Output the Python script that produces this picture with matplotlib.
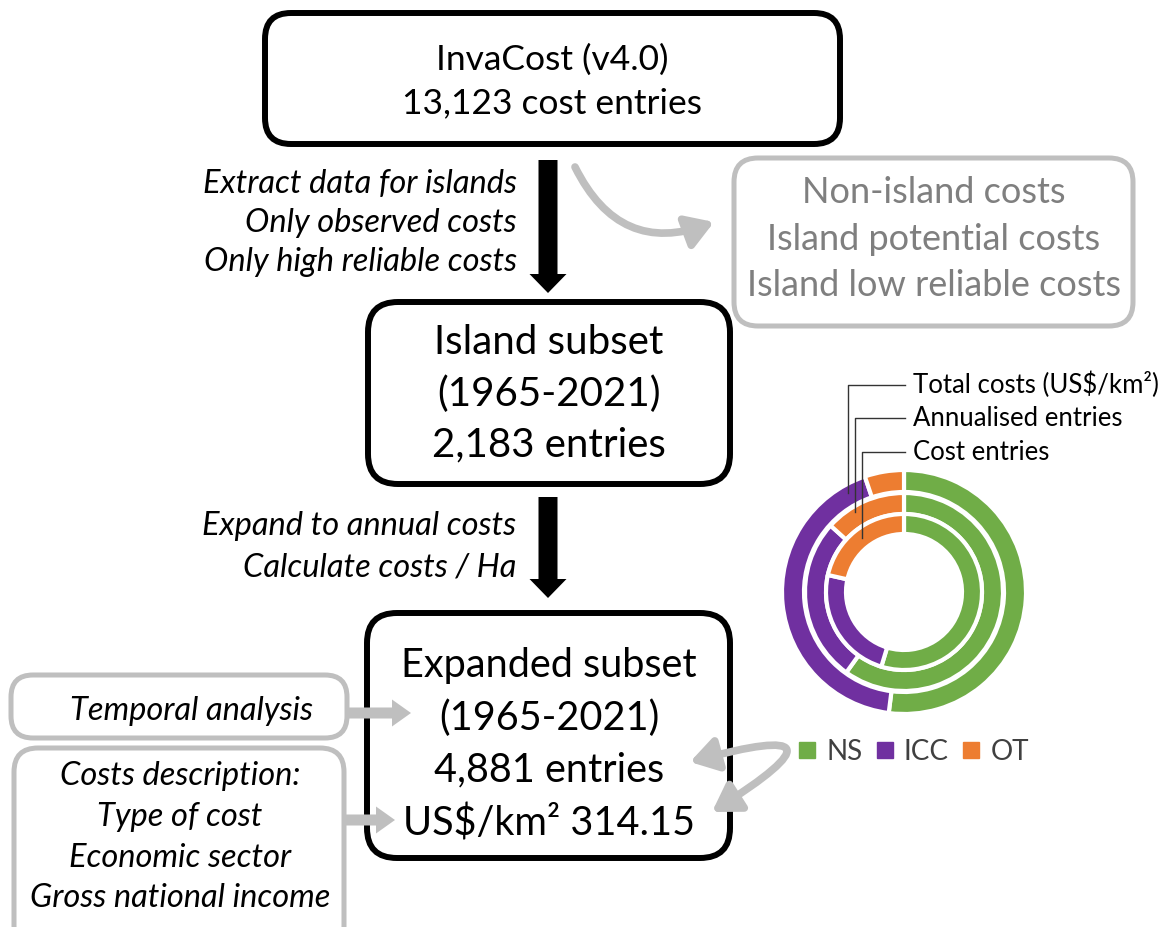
import matplotlib.pyplot as plt
from matplotlib.patches import FancyBboxPatch, FancyArrow, FancyArrowPatch
from matplotlib.lines import Line2D

plt.rcParams['font.family'] = ['Lato', 'DejaVu Sans']

# ring shares (%), order NS, ICC, OT
groups = ['NS', 'ICC', 'OT']
total_costs = [52.0, 42.8, 5.2]
annualised_entries = [59.9, 26.8, 13.3]
cost_entries = [54.7, 23.8, 21.5]
ring_labels = ['Total costs (US$/km²)', 'Annualised entries', 'Cost entries']
colors = ['#70ad47', '#7030a0', '#ed7d31']

top_lines = ['InvaCost (v4.0)', '13,123 cost entries']
filter_lines = ['Extract data for islands', 'Only observed costs', 'Only high reliable costs']
removed_lines = ['Non-island costs', 'Island potential costs', 'Island low reliable costs']
island_lines = ['Island subset', '(1965-2021)', '2,183 entries']
expand_lines = ['Expand to annual costs', 'Calculate costs / Ha']
expanded_lines = ['Expanded subset', '(1965-2021)', '4,881 entries', 'US$/km² 314.15']
desc_lines = ['Costs description:', 'Type of cost', 'Economic sector', 'Gross national income']

GRAY = '#bfbfbf'

fig = plt.figure(figsize=(11.74, 9.27), dpi=100)
ax = fig.add_axes([0, 0, 1, 1])
ax.set_xlim(0, 1174)
ax.set_ylim(927, 0)
ax.axis('off')


def box(x0, y0, x1, y1, ec, lw, r):
    ax.add_patch(FancyBboxPatch((x0, y0), x1 - x0, y1 - y0,
                                boxstyle=f'round,pad=0,rounding_size={r}',
                                fc='white', ec=ec, lw=lw, zorder=1))


def lines(txt, x, ys, size, **kw):
    for t, y in zip(txt, ys):
        ax.text(x, y, t, fontsize=size, va='center', **kw)


# main boxes
box(265, 13, 840, 144, 'black', 4.3, 26)
lines(top_lines, 552, [60, 103], 25.5, ha='center')

box(368, 302, 730, 484, 'black', 4.3, 30)
lines(island_lines, 549, [343, 394, 445], 29, ha='center')

box(367, 613, 730, 858, 'black', 4.3, 30)
lines(expanded_lines, 549, [665, 718, 770, 823], 28.5, ha='center')

# grey boxes
box(734, 158, 1133, 326, GRAY, 3.6, 24)
lines(removed_lines, 934, [192, 239, 285], 26, ha='center', color='#7f7f7f')

box(11, 675, 347, 738, GRAY, 3.6, 22)
lines(['Temporal analysis'], 191, [711], 23.5, ha='center', style='italic')

box(14, 748, 344, 950, GRAY, 3.6, 24)
lines(desc_lines, 180, [776, 817, 858, 898], 23.5, ha='center', style='italic')

# step descriptions
lines(filter_lines, 517, [184, 223, 262], 23.5, ha='right', style='italic')
lines(expand_lines, 516, [526, 567], 23.5, ha='right', style='italic')

# black arrows
ax.add_patch(FancyArrow(548, 160, 0, 133, width=19, head_width=37, head_length=19,
                        length_includes_head=True, color='black', lw=0))
ax.add_patch(FancyArrow(548, 497, 0, 101, width=19, head_width=37, head_length=19,
                        length_includes_head=True, color='black', lw=0))

# grey arrows
ax.add_patch(FancyArrow(347, 713, 64, 0, width=11, head_width=27, head_length=19,
                        length_includes_head=True, color=GRAY, lw=0, zorder=3))
ax.add_patch(FancyArrow(344, 820, 51, 0, width=11, head_width=27, head_length=19,
                        length_includes_head=True, color=GRAY, lw=0, zorder=3))

ax.add_patch(FancyArrowPatch((575, 167), (714, 222), connectionstyle='arc3,rad=0.45',
                             arrowstyle='-|>,head_length=0.8,head_width=0.5',
                             mutation_scale=20, lw=5.5, color=GRAY,
                             shrinkA=0, shrinkB=0, zorder=3))
ax.add_patch(FancyArrowPatch((690, 762), (712, 812), connectionstyle='arc3,rad=-3.3',
                             arrowstyle='<|-|>,head_length=0.8,head_width=0.5',
                             mutation_scale=20, lw=5.5, color=GRAY,
                             shrinkA=0, shrinkB=0, zorder=3))

# donut
dax = fig.add_axes([(904 - 140) / 1174, (927 - 592 - 140) / 927, 280 / 1174, 280 / 927])
for vals, r, w in zip([total_costs, annualised_entries, cost_entries], [122, 99, 78], [22, 21, 20]):
    dax.pie(vals, radius=r, startangle=90, counterclock=False, colors=colors,
            wedgeprops=dict(width=w, edgecolor='white', linewidth=3))
dax.set_xlim(-140, 140)
dax.set_ylim(-140, 140)
dax.set_aspect('equal')
dax.axis('off')

# leader lines to rings
for lab, y, x, yend in zip(ring_labels, [385, 418, 452], [848, 855, 862], [493, 512, 538]):
    dax.plot([905, x, x], [y, y, yend], color='#333333', lw=1, transform=ax.transData, clip_on=False)
    dax.text(913, y, lab, fontsize=18.5, va='center', transform=ax.transData)

handles = [Line2D([], [], marker='s', ls='', color=c, markersize=11) for c in colors]
fig.legend(handles, groups, loc='center', bbox_to_anchor=(911 / 1174, 1 - 752 / 927),
           ncol=3, frameon=False, fontsize=20, handletextpad=0.2, columnspacing=0.3,
           handlelength=1.0, labelcolor='#404040')

fig.savefig('out.png', dpi=100)
